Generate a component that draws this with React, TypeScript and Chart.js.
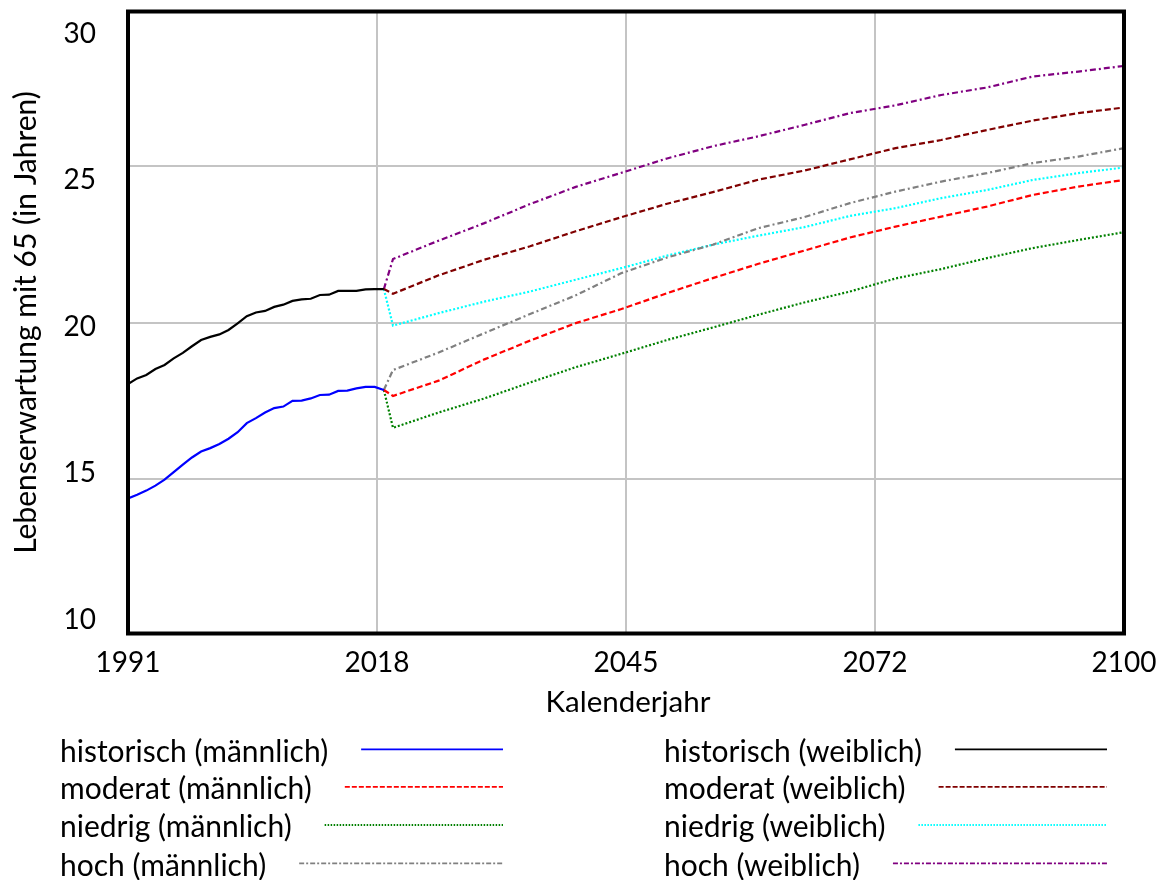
import React, { useEffect, useRef } from "react";
import { Chart, registerables } from "chart.js";

Chart.register(...registerables);

// ---------- data ----------
const histYears = [1991, 1992, 1993, 1994, 1995, 1996, 1997, 1998, 1999, 2000, 2001, 2002, 2003, 2004, 2005, 2006, 2007, 2008, 2009, 2010, 2011, 2012, 2013, 2014, 2015, 2016, 2017, 2018, 2019];
const histMale = [14.37, 14.49, 14.62, 14.78, 14.97, 15.21, 15.45, 15.68, 15.87, 15.98, 16.11, 16.28, 16.49, 16.78, 16.94, 17.12, 17.26, 17.31, 17.49, 17.5, 17.57, 17.68, 17.69, 17.81, 17.82, 17.89, 17.94, 17.94, 17.84];
const histFemale = [18.03, 18.21, 18.32, 18.51, 18.64, 18.85, 19.03, 19.24, 19.44, 19.54, 19.62, 19.76, 19.97, 20.2, 20.32, 20.37, 20.5, 20.57, 20.69, 20.74, 20.76, 20.88, 20.89, 21.01, 21.01, 21.01, 21.06, 21.07, 21.07];

const projYears = [2019, 2020, 2025, 2030, 2035, 2040, 2045, 2050, 2055, 2060, 2065, 2070, 2075, 2080, 2085, 2090, 2095, 2100];
const moderatMale = [17.84, 17.65, 18.14, 18.82, 19.42, 19.98, 20.43, 20.94, 21.42, 21.88, 22.3, 22.72, 23.07, 23.39, 23.71, 24.08, 24.35, 24.56];
const niedrigMale = [17.84, 16.63, 17.12, 17.57, 18.08, 18.57, 19.0, 19.44, 19.84, 20.25, 20.64, 20.99, 21.41, 21.71, 22.06, 22.38, 22.64, 22.89];
const hochMale = [17.84, 18.48, 19.04, 19.66, 20.27, 20.87, 21.58, 22.08, 22.49, 23.02, 23.37, 23.82, 24.19, 24.51, 24.78, 25.1, 25.31, 25.58];
const moderatFemale = [21.07, 20.92, 21.51, 22.01, 22.44, 22.92, 23.37, 23.8, 24.17, 24.57, 24.86, 25.22, 25.58, 25.84, 26.16, 26.46, 26.7, 26.88];
const niedrigFemale = [21.07, 19.9, 20.3, 20.67, 20.99, 21.37, 21.74, 22.14, 22.49, 22.78, 23.05, 23.41, 23.66, 23.98, 24.24, 24.56, 24.78, 24.96];
const hochFemale = [21.07, 22.03, 22.62, 23.18, 23.79, 24.34, 24.79, 25.25, 25.64, 25.96, 26.32, 26.7, 26.95, 27.28, 27.52, 27.87, 28.03, 28.21];

const xTickValues = [1991, 2018.25, 2045.5, 2072.75, 2100];
const xTickLabels = ["1991", "2018", "2045", "2072", "2100"];
const yTickValues = [30, 25, 20, 15, 10];
const yTickLabels = ["30", "25", "20", "15", "10"];

const xTitle = "Kalenderjahr";
const yTitle = "Lebenserwartung mit 65 (in Jahren)";

const seriesLabels = [
  "historisch (männlich)",
  "moderat (männlich)",
  "niedrig (männlich)",
  "hoch (männlich)",
  "historisch (weiblich)",
  "moderat (weiblich)",
  "niedrig (weiblich)",
  "hoch (weiblich)",
];
const seriesColors = ["#0000FF", "#FF0000", "#008000", "#808080", "#000000", "#800000", "#00FFFF", "#800080"];

// ---------- styles ----------
const DASH = [6, 3];
const DOT = [2, 2];
const DASHDOT = [6, 3, 2, 3];
const LEG_DASH = [5, 2];
const LEG_DOT = [1.5, 1.5];
const LEG_DASHDOT = [5, 2, 2, 2];
const plotDashes = [[], DASH, DOT, DASHDOT, [], DASH, DOT, DASHDOT];
const legendDashes = [[], LEG_DASH, LEG_DOT, LEG_DASHDOT, [], LEG_DASH, LEG_DOT, LEG_DASHDOT];

const FONT = "Lato, 'Open Sans', sans-serif";

const toPoints = (xs: number[], ys: number[]) => xs.map((x, i) => ({ x, y: ys[i] }));

const overlayPlugin = {
  id: "overlay",
  afterDraw(chart: any) {
    const ctx = chart.ctx as CanvasRenderingContext2D;
    const area = chart.chartArea;
    const xs = chart.scales.x;
    ctx.save();

    // frame
    ctx.strokeStyle = "#000";
    ctx.lineWidth = 4;
    ctx.setLineDash([]);
    ctx.strokeRect(area.left, area.top + 1.5, area.right - area.left, area.bottom - area.top - 3);

    ctx.fillStyle = "#000";
    // y tick labels (evenly spread, inset at the ends)
    ctx.font = `28px ${FONT}`;
    ctx.textAlign = "right";
    ctx.textBaseline = "alphabetic";
    const yTop = area.top + 23.3;
    const yBot = area.bottom - 16;
    yTickLabels.forEach((lab, i) => {
      const cy = yTop + ((yBot - yTop) * i) / (yTickLabels.length - 1);
      ctx.fillText(lab, 96, cy + 9.5);
    });

    // x tick labels
    ctx.textAlign = "center";
    xTickValues.forEach((v, i) => {
      ctx.fillText(xTickLabels[i], xs.getPixelForValue(v), 672);
    });

    // axis titles
    ctx.font = `29.5px ${FONT}`;
    ctx.fillText(xTitle, (area.left + area.right) / 2 + 2, 711.5);
    ctx.save();
    ctx.font = `30px ${FONT}`;
    ctx.translate(36, (area.top + area.bottom) / 2);
    ctx.rotate(-Math.PI / 2);
    ctx.fillText(yTitle, 0, 0);
    ctx.restore();

    // legend
    ctx.font = `30px ${FONT}`;
    ctx.textAlign = "left";
    const rowY = [749.3, 786.9, 825, 863.3];
    const cols = [
      { textX: 60, lineEnd: 503 },
      { textX: 664, lineEnd: 1107 },
    ];
    chart.data.datasets.forEach((ds: any, i: number) => {
      const col = cols[Math.floor(i / 4)];
      const ly = rowY[i % 4];
      ctx.fillStyle = "#000";
      ctx.fillText(ds.label, col.textX, ly + 12.4);
      const w = ctx.measureText(ds.label).width;
      ctx.beginPath();
      ctx.strokeStyle = ds.borderColor;
      ctx.lineWidth = 1.8;
      ctx.setLineDash(legendDashes[i]);
      ctx.moveTo(col.textX + w + 33, ly);
      ctx.lineTo(col.lineEnd, ly);
      ctx.stroke();
    });
    ctx.restore();
  },
};

export default function App() {
  const canvasRef = useRef<HTMLCanvasElement | null>(null);

  useEffect(() => {
    const canvas = canvasRef.current;
    if (!canvas) return;
    const seriesData = [
      toPoints(histYears, histMale),
      toPoints(projYears, moderatMale),
      toPoints(projYears, niedrigMale),
      toPoints(projYears, hochMale),
      toPoints(histYears, histFemale),
      toPoints(projYears, moderatFemale),
      toPoints(projYears, niedrigFemale),
      toPoints(projYears, hochFemale),
    ];
    const datasets = seriesLabels.map((label, i) => ({
      label,
      data: seriesData[i],
      borderColor: seriesColors[i],
      backgroundColor: seriesColors[i],
      borderWidth: 2.2,
      borderDash: plotDashes[i],
      pointRadius: 0,
      tension: 0,
      fill: false,
    }));

    const chart = new Chart(canvas, {
      type: "line",
      data: { datasets },
      options: {
        animation: false,
        responsive: false,
        maintainAspectRatio: false,
        layout: { padding: { left: 128, top: 10, right: 38, bottom: 245 } },
        plugins: { legend: { display: false }, tooltip: { enabled: false } },
        scales: {
          x: {
            type: "linear",
            min: 1991,
            max: 2100,
            afterBuildTicks: (scale: any) => {
              scale.ticks = xTickValues.map((value) => ({ value }));
            },
            ticks: { display: false },
            border: { display: false },
            grid: {
              drawTicks: false,
              lineWidth: 2,
              color: (c: any) =>
                c.tick && (c.tick.value === 1991 || c.tick.value === 2100) ? "rgba(0,0,0,0)" : "#C4C4C4",
            },
          },
          y: {
            type: "linear",
            min: 10,
            max: 30,
            afterBuildTicks: (scale: any) => {
              scale.ticks = yTickValues.map((value) => ({ value }));
            },
            ticks: { display: false },
            border: { display: false },
            grid: {
              drawTicks: false,
              lineWidth: 2,
              color: (c: any) =>
                c.tick && (c.tick.value === 10 || c.tick.value === 30) ? "rgba(0,0,0,0)" : "#C4C4C4",
            },
          },
        },
      },
      plugins: [overlayPlugin],
    });
    return () => chart.destroy();
  }, []);

  return (
    <div style={{ position: "fixed", left: 0, top: 0, width: 1162, height: 880, background: "#fff" }}>
      <canvas ref={canvasRef} width={1162} height={880} style={{ display: "block" }} />
    </div>
  );
}
